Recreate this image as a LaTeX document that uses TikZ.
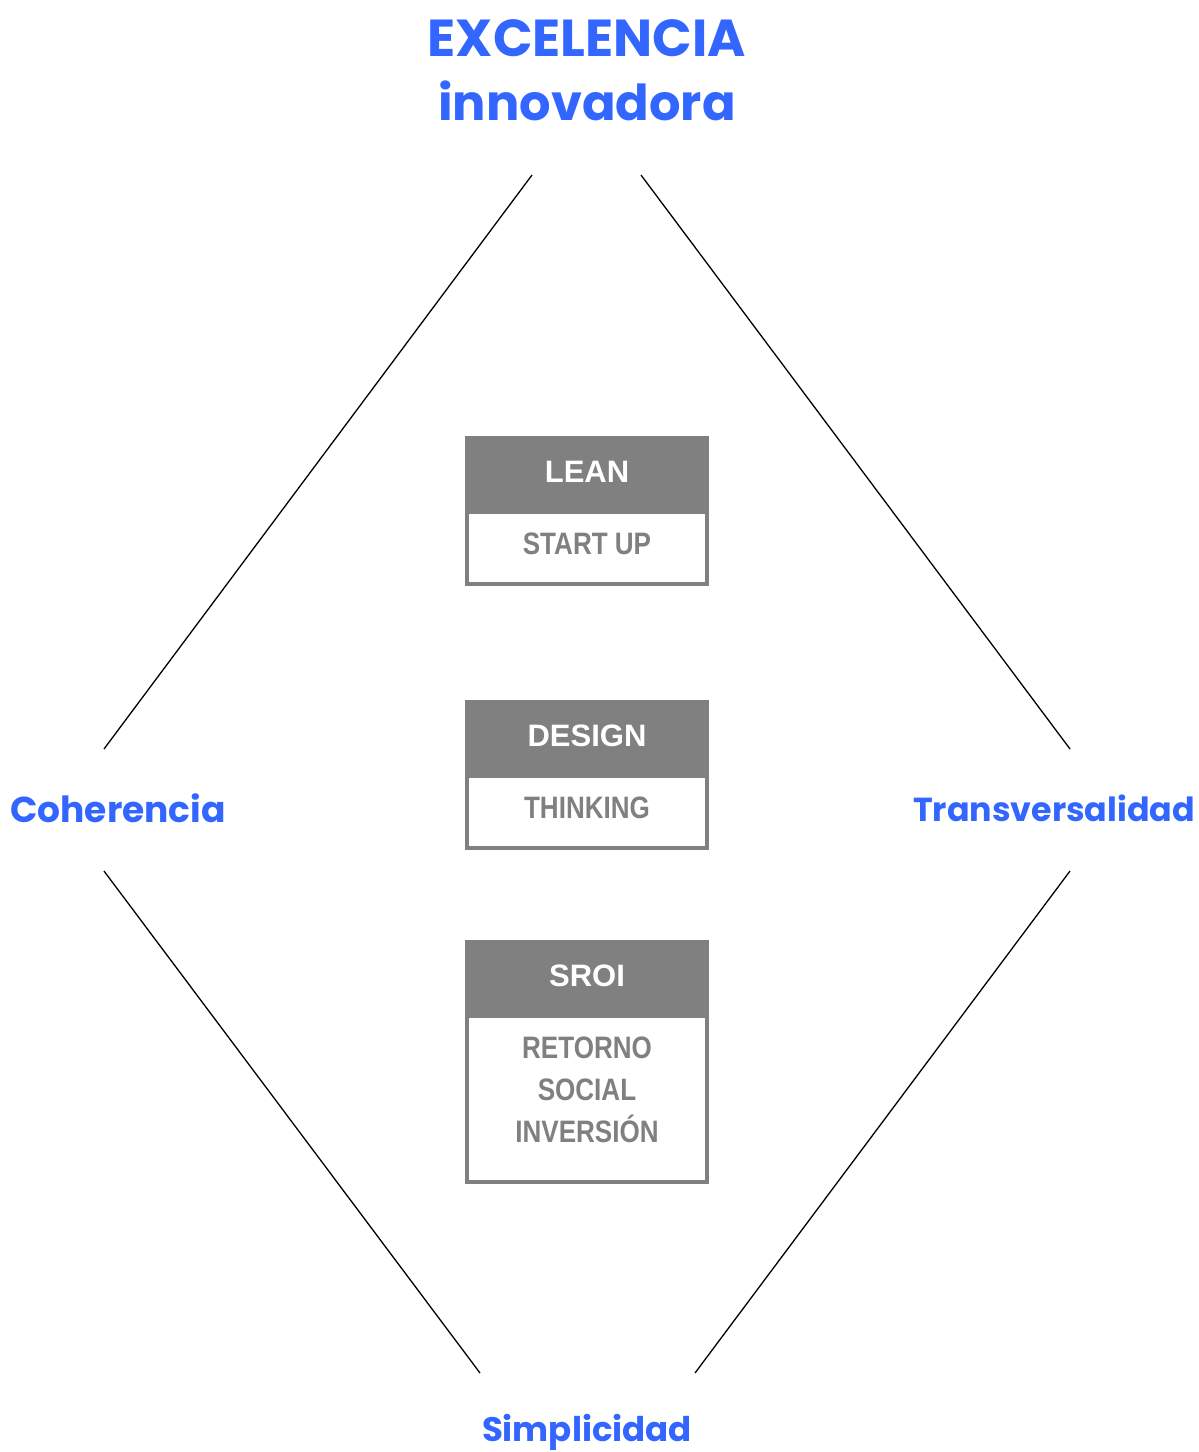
\documentclass[tikz,border=0pt]{standalone}
\usepackage{fontspec}
\setmainfont{Liberation Sans}
\newfontfamily\geo{Poppins}
\definecolor{accent}{RGB}{51,102,255}
\definecolor{boxgray}{RGB}{128,128,128}
\tikzset{
  label/.style={font=\geo\bfseries\fontsize{34}{40}\selectfont, text=accent, inner sep=0pt},
  head/.style={fill=boxgray, draw=boxgray, line width=4pt, minimum width=240pt, inner sep=0pt},
  body/.style={fill=white, draw=boxgray, line width=4pt, minimum width=240pt, inner sep=0pt},
  headtext/.style={text=white, font=\bfseries\fontsize{31}{36}\selectfont, inner sep=0pt},
  bodytext/.style={text=boxgray, font=\bfseries\fontsize{31}{42}\selectfont, inner sep=0pt, align=center},
  edge/.style={line width=1.3pt, black}
}
\newcommand{\narrow}[1]{\scalebox{0.84}[1]{#1}}
\begin{document}
\begin{tikzpicture}[x=1pt,y=-1pt]
\useasboundingbox (0,0) rectangle (1199,1452);

% titles and corner labels
\node[label, font=\geo\bfseries\fontsize{52}{60}\selectfont] (t1) at (587,38) {EXCELENCIA};
\node[label, font=\geo\bfseries\fontsize{49.5}{60}\selectfont] (t2) at (587,101) {innovadora};
\node[label, font=\geo\bfseries\fontsize{36}{40}\selectfont] (left) at (118,808) {Coherencia};
\node[label, font=\geo\bfseries\fontsize{33.3}{40}\selectfont] (right) at (1054,808) {Transversalidad};
\node[label] (bottom) at (587,1432) {Simplicidad};

% diamond edges
\coordinate (a1) at (532,175); \coordinate (a2) at (104,749);
\coordinate (b1) at (641,175); \coordinate (b2) at (1070,749);
\coordinate (c1) at (104,871); \coordinate (c2) at (480,1373);
\coordinate (d1) at (1070,871); \coordinate (d2) at (695,1373);
\draw[edge] (a1) -- (a2);
\draw[edge] (b1) -- (b2);
\draw[edge] (c1) -- (c2);
\draw[edge] (d1) -- (d2);

% LEAN
\node[body, minimum height=72pt, anchor=north] (leanb) at (587,510) {};
\node[head, minimum height=74pt, anchor=north] (leanh) at (587,436) {};
\node[headtext] (leant) at (587,472) {LEAN};
\node[bodytext] (leans) at (587,544) {\narrow{START UP}};
% DESIGN
\node[body, minimum height=72pt, anchor=north] (desb) at (587,774) {};
\node[head, minimum height=74pt, anchor=north] (desh) at (587,700) {};
\node[headtext] (dest) at (587,736) {DESIGN};
\node[bodytext] (dess) at (587,808) {\narrow{THINKING}};
% SROI
\node[body, minimum height=166pt, anchor=north] (srob) at (587,1014) {};
\node[head, minimum height=74pt, anchor=north] (sroh) at (587,940) {};
\node[headtext] (srot) at (587,976) {SROI};
\node[bodytext] (sros) at (587,1090) {\narrow{RETORNO}\\\narrow{SOCIAL}\\\narrow{INVERSIÓN}};
\end{tikzpicture}
\end{document}
